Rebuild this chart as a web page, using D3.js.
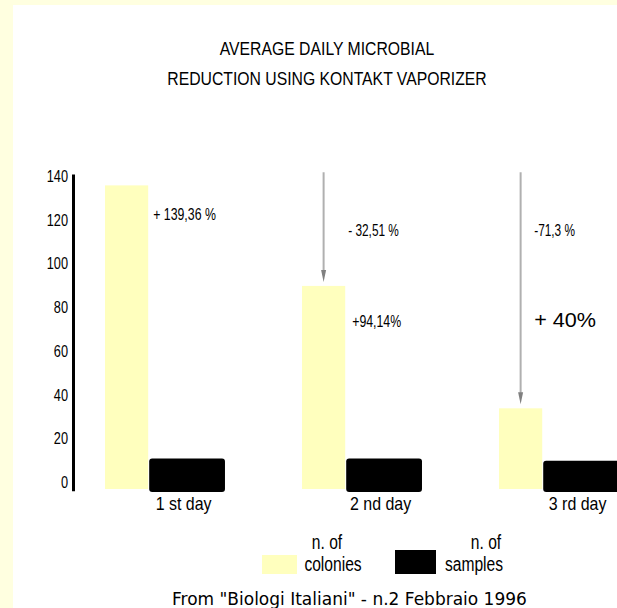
<!DOCTYPE html>
<html>
<head>
<meta charset="utf-8">
<script src="https://cdn.jsdelivr.net/npm/d3@7.9.0/dist/d3.min.js"></script>
<style>
  html, body { margin: 0; padding: 0; background: #ffffe0; }
  svg { display: block; }
  text { font-family: "Liberation Sans", Arial, sans-serif; fill: #000; }
</style>
</head>
<body>
<div id="chart"></div>
<script>
const days     = ['1 st day', '2 nd day', '3 rd day'];
const colonies = [138, 92, 36];
const samples  = [13, 13, 12];
const upLabels   = ['', '- 32,51 %', '-71,3 %'];
const downLabels = ['+ 139,36 %', '+94,14%', '+ 40%'];
const yTicks   = [0, 20, 40, 60, 80, 100, 120, 140];
const titleLines = ['AVERAGE DAILY MICROBIAL', 'REDUCTION USING KONTAKT VAPORIZER'];
const source = 'From "Biologi Italiani" - n.2 Febbraio 1996';

const W = 617, H = 608;
const svg = d3.select('#chart').append('svg')
  .attr('width', W).attr('height', H);

// squeeze text horizontally (no narrow font installed)
function condense (sel, k) {
  sel.each(function () {
    const len = this.getComputedTextLength();
    if (len > 0) d3.select(this).attr('textLength', len * k).attr('lengthAdjust', 'spacingAndGlyphs');
  });
}

svg.append('rect').attr('width', W).attr('height', H).attr('fill', '#ffffe0');
svg.append('rect').attr('x', 13).attr('y', 5).attr('width', W - 13).attr('height', H - 5).attr('fill', '#fff');

const y = d3.scaleLinear().domain([0, 140]).range([487, 181]);
const x = d3.scaleBand().domain(days).range([105, 619]).paddingInner(0.391);
const split = 0.36;

svg.append('g')
  .selectAll('text').data(titleLines).join('text')
  .attr('x', 327).attr('y', (d, i) => 55 + i * 30)
  .attr('text-anchor', 'middle')
  .attr('font-size', 18)
  .text(d => d)
  .call(condense, 0.875);

// y axis
const ax = svg.append('g').attr('transform', 'translate(73,-5)')
  .call(d3.axisLeft(y).tickValues(yTicks).tickSize(0).tickPadding(5));
ax.select('.domain').remove();
ax.selectAll('text').attr('font-size', 17).attr('fill', '#000')
  .style('font-family', '"Liberation Sans", Arial, sans-serif')
  .call(condense, 0.75);
svg.append('line')
  .attr('x1', 73.5).attr('x2', 73.5)
  .attr('y1', y(143)).attr('y2', y(-2))
  .attr('stroke', '#000').attr('stroke-width', 3);

const groups = svg.append('g').selectAll('g').data(days).join('g')
  .attr('transform', d => `translate(${x(d)},0)`);

groups.append('rect')
  .attr('x', 0).attr('width', x.bandwidth() * split)
  .attr('y', (d, i) => y(colonies[i]))
  .attr('height', (d, i) => y(0) - y(colonies[i]) + 2)
  .attr('fill', '#ffffbe');

groups.append('rect')
  .attr('x', x.bandwidth() * split + 1).attr('width', x.bandwidth() * (1 - split) - 1)
  .attr('y', (d, i) => y(samples[i]))
  .attr('height', (d, i) => y(0) - y(samples[i]) + 5)
  .attr('rx', 3)
  .attr('fill', '#000');

groups.append('text')
  .attr('x', x.bandwidth() * (1 + split) / 2 - 3)
  .attr('y', y(0) + 23)
  .attr('text-anchor', 'middle')
  .attr('font-size', 19)
  .text(d => d)
  .call(condense, 0.84);

// arrows from the top of the scale down to each bar
const arrows = groups.filter((d, i) => i > 0);
const cx = x.bandwidth() * split / 2;
arrows.append('line')
  .attr('x1', cx).attr('x2', cx)
  .attr('y1', y(144))
  .attr('y2', d => y(colonies[days.indexOf(d)]) - 12)
  .attr('stroke', '#b0b0b0').attr('stroke-width', 2);
arrows.append('path')
  .attr('d', d => {
    const ty = y(colonies[days.indexOf(d)]) - 4;
    return `M${cx - 2.5},${ty - 12}L${cx},${ty}L${cx + 2.5},${ty - 12}Z`;
  })
  .attr('fill', '#808080');

// percentage notes
groups.append('text')
  .attr('x', (d, i) => i === 2 ? x.bandwidth() * split - 8 : x.bandwidth() * split + 3)
  .attr('y', y(115))
  .attr('font-size', 16)
  .text((d, i) => upLabels[i])
  .call(condense, 0.74);

groups.append('text')
  .attr('x', (d, i) => i === 2 ? x.bandwidth() * split - 8 : x.bandwidth() * split + (i ? 7 : 5))
  .attr('y', (d, i) => i === 0 ? y(122) : y(73))
  .attr('font-size', (d, i) => i === 2 ? 20 : 16)
  .text((d, i) => downLabels[i])
  .each(function (d, i) { d3.select(this).call(condense, i === 2 ? 1.08 : 0.77); });

// legend
const legend = [
  { fill: '#ffffbe', x: 262, w: 35, tx: 333, label: ['n. of', 'colonies'] },
  { fill: '#000', x: 395, w: 41, tx: 474, label: ['n. of', 'samples'] }
];
const lg = svg.append('g').selectAll('g').data(legend).join('g');
lg.append('rect')
  .attr('x', d => d.x).attr('y', (d, i) => i ? 550 : 555)
  .attr('width', d => d.w).attr('height', (d, i) => i ? 24 : 19)
  .attr('fill', d => d.fill);
lg.each(function (d) {
  d3.select(this).selectAll('text').data(d.label).join('text')
    .attr('x', (t, i) => d.tx + (i ? 0 : (d.fill === '#000' ? 12 : -6)))
    .attr('y', (t, i) => 549 + i * 22)
    .attr('text-anchor', 'middle')
    .attr('font-size', 20)
    .text(t => t)
    .call(condense, 0.78);
});

svg.append('text')
  .attr('x', 172).attr('y', 605)
  .style('font-family', '"DejaVu Sans", Verdana, sans-serif')
  .attr('font-size', 17)
  .text(source);
</script>
</body>
</html>
